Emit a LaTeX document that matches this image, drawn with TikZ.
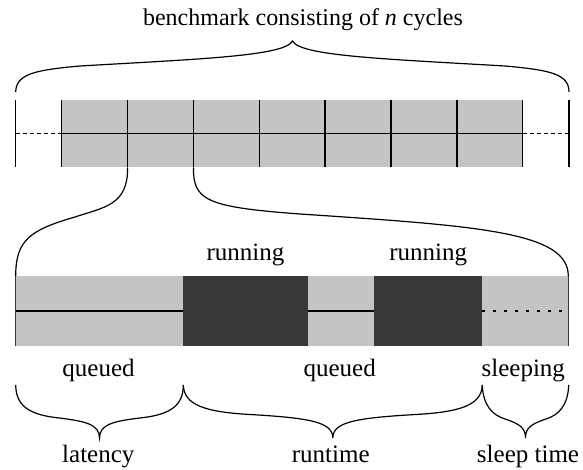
\documentclass[tikz,border=0pt]{standalone}
\usepackage{fontspec}
\setmainfont{Liberation Serif}
\definecolor{lightbar}{HTML}{C4C4C4}
\definecolor{darkbar}{HTML}{383838}
\begin{document}
\begin{tikzpicture}[x=1pt,y=-1pt,
  lbl/.style={font=\fontsize{25}{30}\selectfont, inner sep=0pt, anchor=base},
  barline/.style={line width=1.5pt},
  curve/.style={line width=1.2pt},
  lightseg/.style={fill=lightbar},
  darkseg/.style={fill=darkbar}]
\useasboundingbox (0,0) rectangle (583,470);

% ---- title and top brace
\node[lbl, font=\fontsize{24}{28}\selectfont] (title) at (303,26) {benchmark consisting of \textit{n} cycles};
\draw[curve] (15.7,92) .. controls (16,74) and (35,70) .. (80,66)
  .. controls (200,59) and (285,56) .. (292.5,41)
  .. controls (300,56) and (385,59) .. (505,66)
  .. controls (550,70) and (569,74) .. (569,92);

% ---- top bar
\fill[lightseg] (61.7,100) rectangle (522.7,167.5);
\draw[barline] (61.7,133.5) -- (522.7,133.5);
\foreach \x in {61.7,127.6,193.4,259.3,325.1,391,456.9,522.7}
  \draw[barline] (\x,100) -- (\x,167.5);
\draw[barline] (15.7,100) -- (15.7,167.5);
\draw[barline] (569,100) -- (569,167.5);
\draw[barline, dash pattern=on 4pt off 3pt] (15.7,133.5) -- (61.7,133.5);
\draw[barline, dash pattern=on 4pt off 3pt] (522.7,133.5) -- (569,133.5);

% ---- zoom connectors
\coordinate (c1) at (127.6,167.5);
\coordinate (c2) at (193.4,167.5);
\coordinate (l1) at (15.7,276);
\coordinate (l2) at (568.3,276);
\draw[curve] (c1) .. controls (128,205) and (105,207) .. (75,217)
  .. controls (30,230) and (15.7,240) .. (l1);
\draw[curve] (c2) .. controls (193.4,200) and (205,207) .. (300,214)
  .. controls (480,226) and (568.3,232) .. (l2);

% ---- lower bar
\fill[lightseg] (15.7,275.7) rectangle (568.3,345.5);
\fill[darkseg] (183.3,275.7) rectangle (307.7,345.5);
\fill[darkseg] (374.3,275.7) rectangle (482.3,345.5);
\draw[barline] (15.7,311) -- (183.3,311);
\draw[barline] (307.7,311) -- (374.3,311);
\draw[barline, dash pattern=on 3pt off 8pt] (482.3,311) -- (568.3,311);
\draw[line width=1.2pt, darkbar] (15.7,275.7) -- (15.7,345.5);
\draw[line width=1.2pt, darkbar] (568.3,275.7) -- (568.3,345.5);

% ---- labels
\node[lbl] (run1) at (245.5,260) {running};
\node[lbl] (run2) at (428.3,260) {running};
\node[lbl] (q1) at (98.5,376) {queued};
\node[lbl] (q2) at (339.7,376) {queued};
\node[lbl] (sl) at (523.3,376) {sleeping};
\node[lbl] (lat) at (98.3,462) {latency};
\node[lbl] (rt) at (330.7,462) {runtime};
\node[lbl] (st) at (528,462) {sleep time};

% ---- lower braces
\draw[curve] (15.7,385) .. controls (16,405) and (28,414) .. (55,417.5)
  .. controls (85,421) and (99.5,424) .. (99.5,438)
  .. controls (99.5,424) and (114,421) .. (144,417.5)
  .. controls (171,414) and (183.3,405) .. (183.3,385);
\draw[curve] (183.3,385) .. controls (184,405) and (205,412) .. (250,414.5)
  .. controls (310,418) and (332.8,422) .. (332.8,438)
  .. controls (332.8,422) and (355.6,418) .. (415.6,414.5)
  .. controls (460.6,412) and (481.6,405) .. (482.3,385);
\draw[curve] (482.3,385) .. controls (483,405) and (492,415) .. (505,419)
  .. controls (520,424) and (525.5,428) .. (525.5,438)
  .. controls (525.5,428) and (531,424) .. (546,419)
  .. controls (559,415) and (568,405) .. (568.7,385);
\end{tikzpicture}
\end{document}
